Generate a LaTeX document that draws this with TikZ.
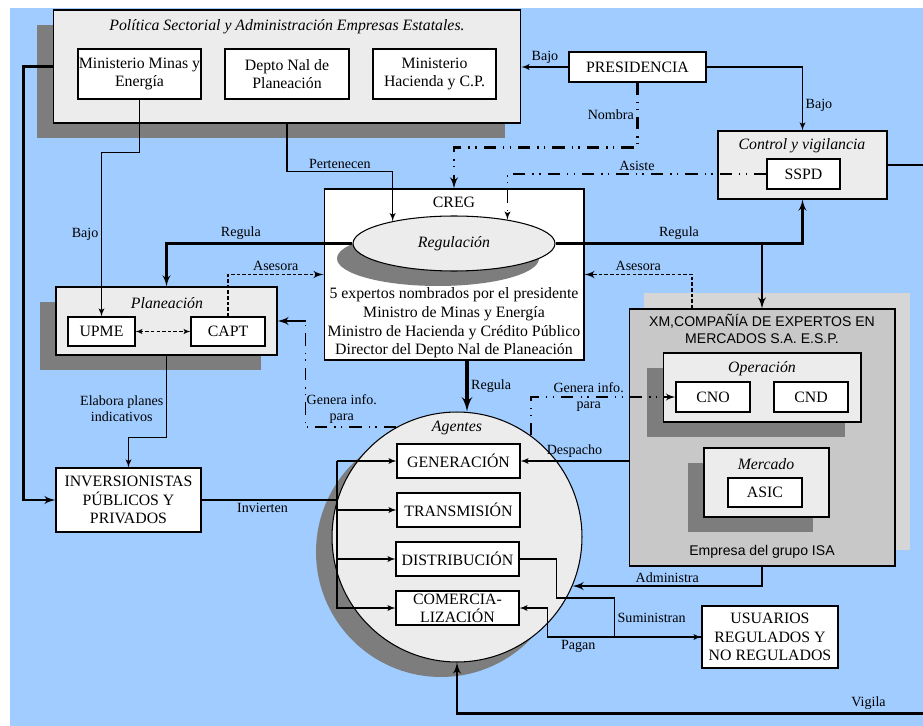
\documentclass[tikz,border=0pt]{standalone}
\usepackage{fontspec}
\setmainfont{Liberation Serif}
\setsansfont{Liberation Sans}
\usetikzlibrary{%
  arrows,%
  shapes,%
  shadows,%
  calc%
}
\definecolor{bgblue}{RGB}{160,204,255}
\definecolor{panelgray}{RGB}{236,236,236}
\definecolor{xmgray}{RGB}{200,200,200}
\definecolor{xmshade}{RGB}{214,214,214}
\definecolor{shadowgray}{RGB}{125,125,125}

\begin{document}
\begin{tikzpicture}
[x=0.02cm, y=-0.02cm, font=\fontsize{9}{10.6}\selectfont, line width=0.6pt, >=latex',
panelbox/.style={rectangle, draw, fill=panelgray, inner sep=0pt},
cellbox/.style={rectangle, draw, fill=white, inner sep=0pt, align=center},
dropbox/.style={drop shadow={shadow xshift=-0.32cm, shadow yshift=-0.3cm, fill=shadowgray, opacity=1}},
xmbox/.style={rectangle, draw, fill=xmgray, inner sep=0pt,
  drop shadow={shadow xshift=0.3cm, shadow yshift=0.32cm, fill=xmshade, opacity=1}},
titletext/.style={font=\fontsize{9}{10.6}\selectfont\itshape, inner sep=0pt},
sanstext/.style={font=\fontsize{8}{9.6}\sffamily\selectfont, inner sep=0pt, align=center},
lbl/.style={font=\fontsize{8}{9.4}\selectfont, inner sep=1.5pt, align=center},
heavy/.style={line width=1.2pt},
ddash/.style={dash pattern=on 7pt off 4pt on 0.8pt off 3pt on 0.8pt off 4pt},
sdash/.style={dash pattern=on 2pt off 1.2pt}]

\useasboundingbox (0,0) rectangle (923,726);
\fill[bgblue] (10,8) rectangle (923,726);

% upper block
\node[panelbox, dropbox, minimum width=9.36cm, minimum height=2.26cm] (pol) at (287,66.5) {};
\node[titletext] (poltitle) at (287,27) {Política Sectorial y Administración Empresas Estatales.};
\node[cellbox, minimum width=2.46cm, minimum height=1cm] (mme) at (139.5,74) {Ministerio Minas y\\Energía};
\node[cellbox, minimum width=2.48cm, minimum height=1cm] (dnp) at (287,74) {Depto Nal de\\Planeación};
\node[cellbox, minimum width=2.46cm, minimum height=1cm] (mhc) at (434.5,74) {Ministerio\\Hacienda y C.P.};

\node[cellbox, minimum width=2.74cm, minimum height=0.6cm] (pres) at (637.5,67) {PRESIDENCIA};

\node[panelbox, minimum width=3.38cm, minimum height=1.36cm] (cv) at (802.5,165) {};
\node[titletext] (cvtitle) at (802,146) {Control y vigilancia};
\node[cellbox, minimum width=1.46cm, minimum height=0.6cm] (sspd) at (803.5,174) {SSPD};

% CREG
\node[cellbox, minimum width=5.2cm, minimum height=3.42cm] (creg) at (454,274.5) {};
\node[inner sep=0pt] (cregtitle) at (454,202) {CREG};
\node[ellipse, draw, fill=panelgray, dropbox, inner sep=0pt, minimum width=4.04cm, minimum height=1.1cm] (reg) at (454,243.5) {\itshape Regulación};
\node[inner sep=0pt, align=center] (cregtext) at (454,323) {5 expertos nombrados por el presidente\\Ministro de Minas y Energía\\Ministro de Hacienda y Crédito Público\\Director del Depto Nal de Planeación};

% planeacion
\node[panelbox, dropbox, minimum width=4.42cm, minimum height=1.36cm] (plan) at (166.5,321) {};
\node[titletext] (plantitle) at (167,303) {Planeación};
\node[cellbox, minimum width=1.34cm, minimum height=0.58cm] (upme) at (101.5,331.5) {UPME};
\node[cellbox, minimum width=1.48cm, minimum height=0.58cm] (capt) at (228,331.5) {CAPT};

\node[cellbox, minimum width=2.9cm, minimum height=1.28cm] (inv) at (128.5,500) {INVERSIONISTAS\\PÚBLICOS Y\\PRIVADOS};

% agentes
\node[circle, draw, fill=panelgray, dropbox, inner sep=0pt, minimum size=5cm] (ag) at (457,537) {};
\node[titletext] (agtitle) at (457,428) {Agentes};
\node[cellbox, minimum width=2.46cm, minimum height=0.68cm] (gen) at (458.5,461) {GENERACIÓN};
\node[cellbox, minimum width=2.46cm, minimum height=0.68cm] (trans) at (458.5,510) {TRANSMISIÓN};
\node[cellbox, minimum width=2.46cm, minimum height=0.68cm] (dist) at (457.5,559) {DISTRIBUCIÓN};
\node[cellbox, minimum width=2.46cm, minimum height=0.68cm, font=\fontsize{9}{10.4}\selectfont] (com) at (457.5,608) {COMERCIA-\\LIZACIÓN};

% XM
\node[xmbox, minimum width=5.32cm, minimum height=5.14cm] (xm) at (762,437.5) {};
\node[sanstext] (xmtitle) at (762,328.5) {XM,COMPAÑÍA DE EXPERTOS EN\\MERCADOS S.A. E.S.P.};
\node[sanstext] (xmfoot) at (762,552) {Empresa del grupo ISA};
\node[panelbox, dropbox, minimum width=3.96cm, minimum height=1.38cm] (op) at (762,387.5) {};
\node[titletext] (optitle) at (762,369) {Operación};
\node[cellbox, minimum width=1.48cm, minimum height=0.6cm] (cno) at (713,397) {CNO};
\node[cellbox, minimum width=1.48cm, minimum height=0.6cm] (cnd) at (811,397) {CND};
\node[panelbox, dropbox, minimum width=2.5cm, minimum height=1.38cm] (mer) at (766.5,482.5) {};
\node[titletext] (mertitle) at (766,464) {Mercado};
\node[cellbox, minimum width=1.48cm, minimum height=0.58cm] (asic) at (765,492.5) {ASIC};

\node[cellbox, minimum width=2.72cm, minimum height=1.24cm] (usu) at (770,637) {USUARIOS\\REGULADOS Y\\NO REGULADOS};

% connectors
\draw[->] (pres.west) -- node[lbl,above] (lbajo1) {Bajo} (pres.west -| pol.east);
\draw[->] (pres.east) -| node[lbl,pos=0.8,right] (lbajo2) {Bajo} (cv.north);
\draw[heavy, ddash, ->] (pres.south) -- node[lbl,left] (lnombra) {Nombra} ++(0,65) -| (creg.north);
\draw[ddash, ->] (sspd.west) -| node[lbl,pos=0.25,above] (lasiste) {Asiste} (reg.24);
\draw[->] (pol.south) -- ++(0,48) -| node[lbl,pos=0.25,above] (lpert) {Pertenecen} (reg.160);
\draw[heavy, ->] (reg.west) -| node[lbl,pos=0.3,above] (lreg1) {Regula} (plan.north);
\draw[heavy, ->] (reg.east) -| node[lbl,pos=0.25,above] (lreg2) {Regula} (cv.south);
\draw[heavy, ->] (reg.east -| xm.north) -- (xm.north);
\draw[sdash, line width=1pt, ->] (capt.north) |- node[lbl,pos=0.75,above] (lases1) {Asesora} (creg.west);
\draw[sdash, line width=1pt, ->] ([xshift=-1.4cm]xm.north) |- node[lbl,pos=0.75,above] (lases2) {Asesora} (creg.east);
\draw[->] (mme.south) -- ++(0,53) -| node[lbl,pos=0.75,left] (lbajo3) {Bajo} (upme.north);
\draw[<->, sdash, line width=0.4pt] (upme) -- (capt);
\draw[heavy, ->] (pol.west) -- ++(-29,0) |- (inv.west);
\draw[->] (plan.south) -- node[lbl,pos=0.65,left] (lelab) {Elabora planes\\indicativos} ++(0,82) -| (inv.north);

\coordinate (trunk) at (337,461);
\draw (inv.east) -- node[lbl,below,pos=0.45] (linv) {Invierten} (inv.east -| trunk);
\draw[->] (trunk) -- (gen.west);
\draw[->] (trunk) |- (trans.west);
\draw[->] (trunk) |- (dist.west);
\draw[->] (trunk) |- (com.west);

\coordinate (cregdown) at ([xshift=0.26cm]creg.south);
\draw[line width=1.8pt, ->] (cregdown) -- node[lbl,right] (lreg3) {Regula} (cregdown |- ag.north);
\draw[->] (xm.west |- gen.east) -- node[lbl,above] (ldesp) {Despacho} (gen.east);

\coordinate (geninfo) at ($(plan.east)+(28,0)$);
\draw[line width=0.9pt, ddash] (ag.119) -| node[lbl,pos=0.3,above] (lgen1) {Genera info.\\para} (geninfo);
\draw[heavy, ->] (geninfo) -- (plan.east);
\draw[line width=0.9pt, ddash, ->] (ag.54) |- node[lbl,pos=0.7] (lgen2) {Genera info.\\para} (cno.west);

\draw[heavy, ->] (xm.south) |- node[lbl,pos=0.75,above] (ladm) {Administra} (ag.-23);
\draw[->] (dist.east) -- ++(37,0) |- ++(58,39) |- node[lbl,pos=0.25,right] (lsum) {Suministran} (usu.west);
\draw[->] (usu.west) -- node[lbl,pos=0.8,below] (lpag) {Pagan} ++(-154,0) |- (com.east);

\coordinate (vigila) at ([yshift=-1.02cm]ag.south);
\draw[heavy, ->] (cv.east) -- ++(48,0) |- node[lbl,pos=0.57,above] (lvig) {Vigila} (vigila) -- (ag.south);
\end{tikzpicture}
\end{document}
